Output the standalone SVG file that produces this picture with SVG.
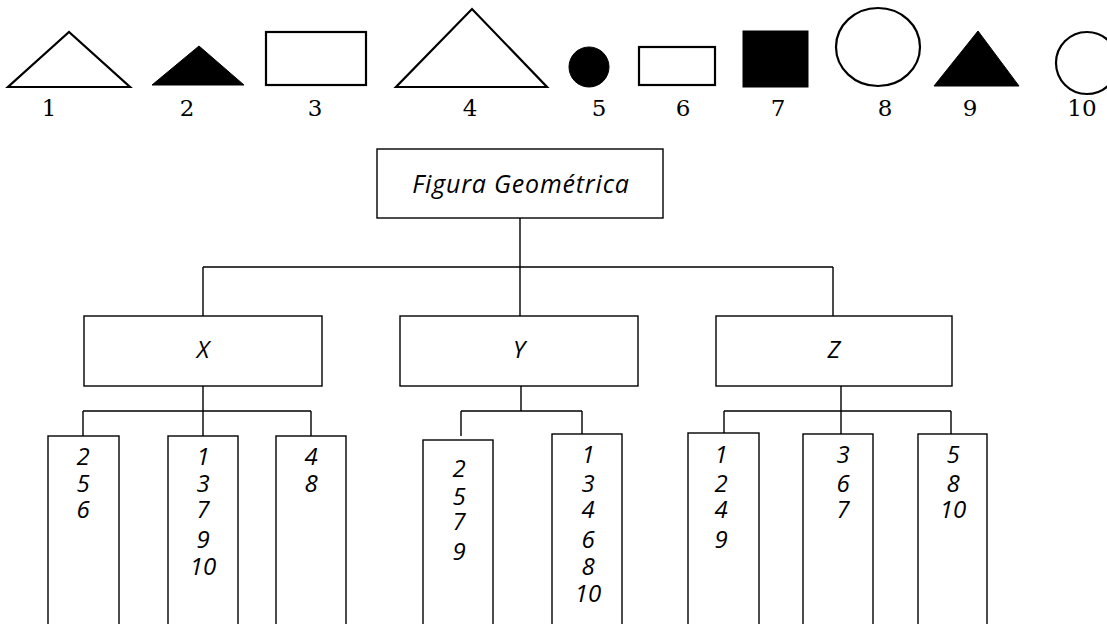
<svg xmlns="http://www.w3.org/2000/svg" width="1107" height="624" viewBox="0 0 1107 624">
<style>
.sh{fill:#fff;stroke:#000;stroke-width:2.2}
.fl{fill:#000;stroke:#000;stroke-width:1}
.lbl{font-family:"DejaVu Serif",serif;font-size:23px;text-anchor:middle;fill:#000}
.box{fill:#fff;stroke:#000;stroke-width:1.4}
.t{font-family:"Open Sans","Noto Sans",sans-serif;font-style:italic;font-size:24px;text-anchor:middle;fill:#000}
.f{font-family:"Open Sans","Noto Sans",sans-serif;font-style:italic;font-size:25px;letter-spacing:0.8px;text-anchor:middle;fill:#000}
.n{font-family:"Open Sans","Noto Sans",sans-serif;font-style:italic;font-size:24px;text-anchor:middle;fill:#000}
.c{fill:none;stroke:#000;stroke-width:1.4}
</style>
<g id="shapes">
<polygon class="sh" points="8,87 130,87 69,32"/>
<polygon class="fl" points="152,85 244,85 199,46"/>
<rect class="sh" x="266" y="32" width="100" height="53"/>
<polygon class="sh" points="396,87 547,87 472,9"/>
<circle class="fl" cx="589" cy="67" r="20"/>
<rect class="sh" x="639" y="47" width="76" height="38"/>
<rect class="fl" x="743" y="31" width="65" height="56"/>
<ellipse class="sh" cx="878" cy="47" rx="42" ry="39"/>
<polygon class="fl" points="934,86 1019,86 978,31"/>
<circle class="sh" cx="1087" cy="63" r="31"/>
<text class="lbl" x="49" y="116">1</text>
<text class="lbl" x="187" y="116">2</text>
<text class="lbl" x="315" y="116">3</text>
<text class="lbl" x="470" y="116">4</text>
<text class="lbl" x="599" y="116">5</text>
<text class="lbl" x="683" y="116">6</text>
<text class="lbl" x="778" y="116">7</text>
<text class="lbl" x="885" y="116">8</text>
<text class="lbl" x="970" y="116">9</text>
<text class="lbl" x="1082" y="116">10</text>
</g>
<g id="connectors">
<path class="c" d="M520,218 V267 M203,267 H833 M203,267 V316 M520,267 V316 M833,267 V316"/>
<path class="c" d="M203,386 V436 M83,411 H311 M83,411 V436 M311,411 V436"/>
<path class="c" d="M521,386 V411 M461,411 H582 M461,411 V436 M582,411 V434"/>
<path class="c" d="M841,386 V434 M724,411 H951 M724,411 V434 M951,411 V434"/>
</g>
<g id="root"><rect class="box" x="377" y="149" width="286" height="69"/><text class="f" x="521" y="193">Figura Geométrica</text></g>
<g id="X"><rect class="box" x="84" y="316" width="238" height="70"/><text class="t" x="203" y="358">X</text></g>
<g id="Y"><rect class="box" x="400" y="316" width="238" height="70"/><text class="t" x="519" y="358">Y</text></g>
<g id="Z"><rect class="box" x="716" y="316" width="236" height="70"/><text class="t" x="834" y="358">Z</text></g>
<g id="X1"><rect class="box" x="48" y="436" width="71" height="200"/><text class="n"><tspan x="83" y="465">2</tspan><tspan x="83" y="492">5</tspan><tspan x="83" y="518">6</tspan></text></g>
<g id="X2"><rect class="box" x="168" y="436" width="70" height="200"/><text class="n"><tspan x="203" y="465">1</tspan><tspan x="203" y="492">3</tspan><tspan x="203" y="518">7</tspan><tspan x="203" y="548">9</tspan><tspan x="203" y="575">10</tspan></text></g>
<g id="X3"><rect class="box" x="276" y="436" width="70" height="200"/><text class="n"><tspan x="311" y="465">4</tspan><tspan x="311" y="492">8</tspan></text></g>
<g id="Y1"><rect class="box" x="423" y="440" width="70" height="200"/><text class="n"><tspan x="459" y="477">2</tspan><tspan x="459" y="505">5</tspan><tspan x="459" y="530">7</tspan><tspan x="459" y="560">9</tspan></text></g>
<g id="Y2"><rect class="box" x="552" y="434" width="70" height="200"/><text class="n"><tspan x="588" y="463">1</tspan><tspan x="588" y="492">3</tspan><tspan x="588" y="518">4</tspan><tspan x="588" y="548">6</tspan><tspan x="588" y="575">8</tspan><tspan x="588" y="602">10</tspan></text></g>
<g id="Z1"><rect class="box" x="688" y="433" width="71" height="200"/><text class="n"><tspan x="721" y="463">1</tspan><tspan x="721" y="492">2</tspan><tspan x="721" y="518">4</tspan><tspan x="721" y="548">9</tspan></text></g>
<g id="Z2"><rect class="box" x="803" y="434" width="70" height="200"/><text class="n"><tspan x="843" y="463">3</tspan><tspan x="843" y="492">6</tspan><tspan x="843" y="518">7</tspan></text></g>
<g id="Z3"><rect class="box" x="918" y="434" width="69" height="200"/><text class="n"><tspan x="953" y="463">5</tspan><tspan x="953" y="492">8</tspan><tspan x="953" y="518">10</tspan></text></g>
</svg>
